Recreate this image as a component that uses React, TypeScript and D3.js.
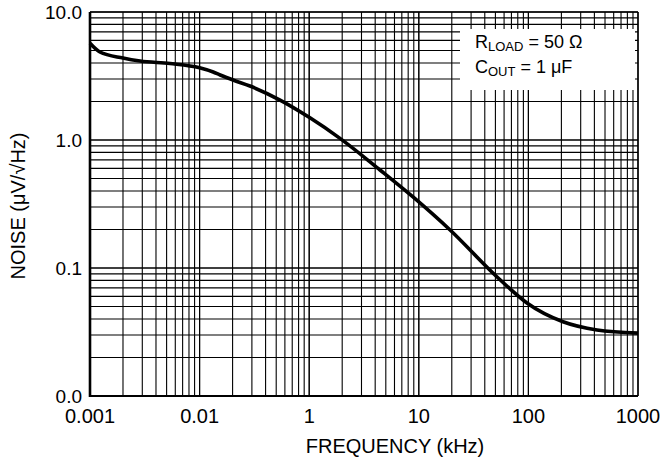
import React from "react";
import * as d3 from "d3";

const freq = [0.001, 0.00123, 0.002, 0.00286, 0.00537, 0.01, 0.0133, 0.0154, 0.0202, 0.0288, 0.0542, 0.1016, 0.191, 0.443, 0.885, 1.93, 5.18, 9.7, 20.7, 42.3, 100];
const noise = [5.7, 4.87, 4.37, 4.14, 3.96, 3.67, 3.4, 3.22, 2.94, 2.64, 2.05, 1.49, 1.03, 0.583, 0.359, 0.198, 0.0851, 0.0533, 0.038, 0.0328, 0.031];

const xTickValues = [0.001, 0.01, 0.1, 1, 10, 100];
const xTickLabels = ["0.001", "0.01", "1", "10", "100", "1000"];
const yTickValues = [10, 1, 0.1, 0.01];
const yTickLabels = ["10.0", "1.0", "0.1", "0.0"];

const W = 666, H = 465;
const M = { left: 90, right: 28, top: 12, bottom: 69 };
const FONT = "'Liberation Sans', Arial, Helvetica, sans-serif";

export default function App() {
  const x = d3.scaleLog().domain([0.001, 100]).range([M.left, W - M.right]);
  const y = d3.scaleLog().domain([0.01, 10]).range([H - M.bottom, M.top]);

  const minorX: number[] = [];
  for (let e = -3; e < 2; e++) for (let k = 1; k <= 10; k++) minorX.push(k * Math.pow(10, e));
  const minorY: number[] = [];
  for (let e = -2; e < 1; e++) for (let k = 1; k <= 10; k++) minorY.push(k * Math.pow(10, e));

  const pts = freq.map((f, i) => [f, noise[i]] as [number, number]);
  const line = d3.line<[number, number]>().x(d => x(d[0])).y(d => y(d[1])).curve(d3.curveMonotoneX);

  const [x0, x1] = x.range();
  const [y0, y1] = y.range();

  return (
    <svg width={W} height={H} style={{ position: "absolute", left: 0, top: 0, background: "#fff" }} fontFamily={FONT}>
      <rect x={0} y={0} width={W} height={H} fill="#fff" />
      {minorX.map((v, i) => (
        <line key={"gx" + i} x1={x(v)} x2={x(v)} y1={y1} y2={y0} stroke="#000" strokeWidth={1.1} />
      ))}
      {minorY.map((v, i) => (
        <line key={"gy" + i} x1={x0} x2={x1} y1={y(v)} y2={y(v)} stroke="#000" strokeWidth={1.1} />
      ))}
      <rect x={460} y={29} width={175} height={61} fill="#fff" />
      <path d={line(pts) || ""} fill="none" stroke="#000" strokeWidth={3.6} strokeLinejoin="round" />
      <line x1={x0} x2={x0} y1={y1} y2={y0 + 1} stroke="#000" strokeWidth={2.6} />
      <line x1={x0} x2={x1} y1={y0} y2={y0} stroke="#000" strokeWidth={2.2} />
      <line x1={x0} x2={x1} y1={y1} y2={y1} stroke="#000" strokeWidth={1.6} />
      <line x1={x1} x2={x1} y1={y1} y2={y0} stroke="#000" strokeWidth={1.4} />
      {xTickValues.map((v, i) => (
        <text key={"xt" + i} x={x(v)} y={423} textAnchor="middle" fontSize={20}>{xTickLabels[i]}</text>
      ))}
      {yTickValues.map((v, i) => (
        <text key={"yt" + i} x={82} y={y(v) + 7} textAnchor="end" fontSize={19}>{yTickLabels[i]}</text>
      ))}
      <text x={395} y={453} textAnchor="middle" fontSize={20}>FREQUENCY (kHz)</text>
      <text transform={`translate(25,${(y0 + y1) / 2 + 2}) rotate(-90)`} textAnchor="middle" fontSize={20}>NOISE (μV/√Hz)</text>
      <text x={475} y={48} fontSize={18}>R<tspan fontSize={13} dy={3}>LOAD</tspan><tspan dy={-3}> = 50 Ω</tspan></text>
      <text x={475} y={73} fontSize={18}>C<tspan fontSize={13} dy={3}>OUT</tspan><tspan dy={-3}> = 1 μF</tspan></text>
    </svg>
  );
}
